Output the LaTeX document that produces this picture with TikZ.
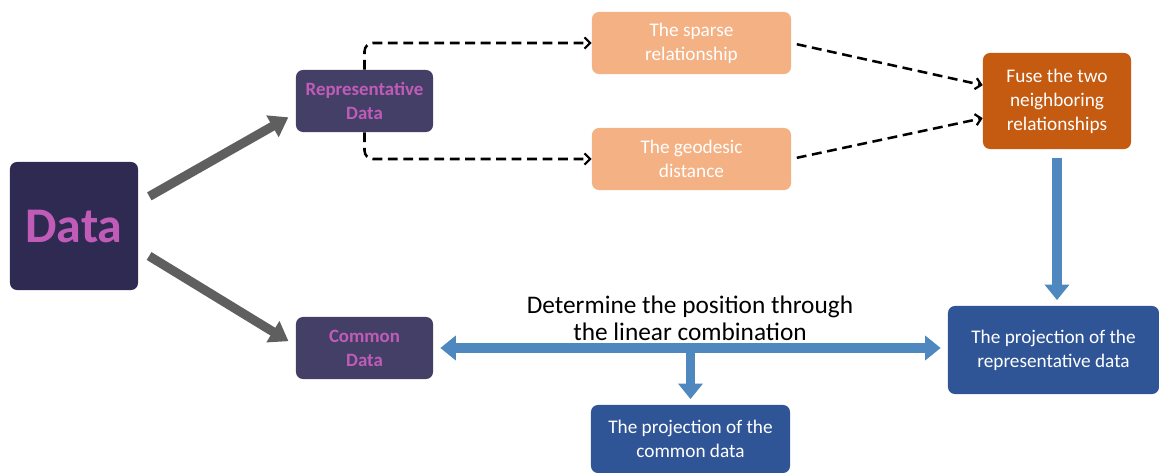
\documentclass[tikz,border=0pt]{standalone}
\usepackage{fontspec}
\setmainfont{Carlito}
\usetikzlibrary{arrows.meta}
\definecolor{dataC}{HTML}{2E2A52}
\definecolor{subC}{HTML}{443F66}
\definecolor{pinkC}{HTML}{C05CB8}
\definecolor{peachC}{HTML}{F4B183}
\definecolor{rustC}{HTML}{C55A11}
\definecolor{projC}{HTML}{2F5597}
\definecolor{arrC}{HTML}{4E88BE}
\definecolor{greyC}{HTML}{5F5F5F}
\tikzset{
  box/.style={rounded corners=5pt,inner sep=0pt,align=center,text=white,
    font=\fontsize{13.7}{17}\selectfont},
  darkbox/.style={box,fill=subC,text=pinkC,font=\fontsize{13.4}{17}\selectfont\bfseries},
  dashline/.style={line width=1.8pt,dash pattern=on 7pt off 4pt,
    -{Straight Barb[length=4pt,width=8pt,line width=1.6pt]}},
  greyarrow/.style={draw=greyC,line width=6.5pt,-{Triangle[length=13pt,width=17pt]}},
  bluearrow/.style={draw=arrC,line width=7pt,-{Triangle[length=11pt,width=17pt]}},
}
\begin{document}
\begin{tikzpicture}[x=0.025cm,y=-0.025cm]
\useasboundingbox (0,0) rectangle (1159,473);
% nodes
\node[box,fill=dataC,text=pinkC,font=\fontsize{35.5}{40}\selectfont\bfseries,
  minimum size=3.2cm] (data) at (74,226) {Data};
\node[darkbox,minimum width=3.425cm,minimum height=1.55cm] (rep) at (364.5,101) {Representative\\Data};
\node[darkbox,minimum width=3.425cm,minimum height=1.55cm] (com) at (364.5,348) {Common\\Data};
\node[box,fill=peachC,minimum width=4.975cm,minimum height=1.55cm] (sparse) at (691.5,43) {The sparse\\relationship};
\node[box,fill=peachC,minimum width=4.975cm,minimum height=1.55cm] (geo) at (691.5,159) {The geodesic\\distance};
\node[box,fill=rustC,minimum width=3.7cm,minimum height=2.4cm] (fuse) at (1057,101) {Fuse the two\\neighboring\\relationships};
\node[box,fill=projC,minimum width=5.275cm,minimum height=2.2cm] (projrep) at (1053.5,350) {The projection of the\\representative data};
\node[box,fill=projC,minimum width=4.975cm,minimum height=1.7cm] (projcom) at (690.5,439) {The projection of the\\common data};
\node[align=center,font=\fontsize{18}{19}\selectfont] (lbl) at (690,318) {Determine the position through\\the linear combination};

% grey arrows
\draw[greyarrow,shorten <=9pt,shorten >=6pt] (data.20) -- (rep.190);
\draw[greyarrow,shorten <=9pt,shorten >=6pt] (data.-20) -- (com.178);

% dashed links
\draw[dashline,rounded corners=6pt] (rep.north) |- (sparse.west);
\draw[dashline,rounded corners=6pt] (rep.south) |- (geo.west);
\draw[dashline,shorten <=4pt] (sparse.east) -- (fuse.168);
\draw[dashline,shorten <=4pt] (geo.east) -- (fuse.193);

% blue arrows
\draw[bluearrow,shorten <=6pt,shorten >=4pt] (fuse.south) -- (fuse.south |- projrep.north);
\draw[bluearrow,{Triangle[length=11pt,width=17pt]}-{Triangle[length=11pt,width=17pt]},
  shorten <=5pt,shorten >=5pt] (com.east) -- (com.east -| projrep.west);
\draw[bluearrow,shorten >=4pt] (projcom.north |- com.east) -- (projcom.north);
\end{tikzpicture}
\end{document}
